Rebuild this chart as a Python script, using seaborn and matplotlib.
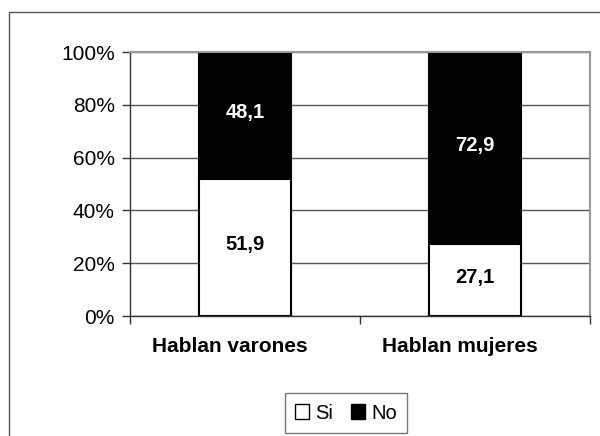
import pandas as pd
import matplotlib.pyplot as plt
import matplotlib.transforms as mtransforms
import seaborn as sns
from matplotlib.patches import Patch, Rectangle

# datos del gráfico
categorias = ["Hablan varones", "Hablan mujeres"]
si = [51.9, 27.1]
no = [48.1, 72.9]
etiquetas_y = ["0%", "20%", "40%", "60%", "80%", "100%"]

sns.set_theme(style="white")
plt.rcParams['font.family'] = ['Liberation Sans', 'DejaVu Sans']
plt.rcParams['text.color'] = 'black'
plt.rcParams['xtick.color'] = 'black'
plt.rcParams['ytick.color'] = 'black'

df = pd.DataFrame({"categoria": categorias, "Si": si, "No": no})
df["Total"] = df["Si"] + df["No"]

fig = plt.figure(figsize=(6, 4.36), dpi=100)
ax = fig.add_axes([130 / 600, 1 - 316 / 436, 460 / 600, 264 / 436])

# barra completa en negro (No) y encima la parte blanca (Si)
sns.barplot(data=df, x="categoria", y="Total", color="black", width=0.4,
            edgecolor="black", linewidth=1.5, saturation=1, ax=ax)
sns.barplot(data=df, x="categoria", y="Si", color="white", width=0.4,
            edgecolor="black", linewidth=1.5, saturation=1, ax=ax)

for i, (s, n) in enumerate(zip(si, no)):
    ax.text(i, s / 2 + 1, f"{s:.1f}".replace(".", ","), ha="center", va="center",
            fontsize=14.5, fontweight="bold", color="black")
    ax.text(i, s + n / 2 + 1, f"{n:.1f}".replace(".", ","), ha="center", va="center",
            fontsize=14.5, fontweight="bold", color="white")

ax.set_ylim(0, 100)
ax.set_xlim(-0.5, 1.5)
ax.set_yticks(range(0, 101, 20))
ax.set_yticklabels(etiquetas_y, fontsize=15)
ax.set_xticks([0, 1])
ax.set_xticklabels(categorias, fontsize=15, fontweight="bold")
ax.set_xticks([-0.5, 0.5, 1.5], minor=True)
ax.set_xlabel("")
ax.set_ylabel("")
ax.yaxis.grid(True, color="#555555", linewidth=1)
ax.set_axisbelow(True)
ax.tick_params(axis="y", left=True, length=6, width=1, color="#333333", pad=5)
ax.tick_params(axis="x", which="major", bottom=False, pad=9)
ax.tick_params(axis="x", which="minor", bottom=True, length=6, width=1, color="#333333")

# las etiquetas de categoría van algo a la izquierda, como en el original
desplazamiento = mtransforms.ScaledTranslation(-15 / 100, 0, fig.dpi_scale_trans)
for etiqueta in ax.get_xticklabels():
    etiqueta.set_transform(etiqueta.get_transform() + desplazamiento)

for lado in ["top", "right"]:
    ax.spines[lado].set_color("#999999")
    ax.spines[lado].set_linewidth(1.5)
for lado in ["left", "bottom"]:
    ax.spines[lado].set_color("#333333")
    ax.spines[lado].set_linewidth(1)

# marco exterior
fig.patches.append(Rectangle((9 / 600, -0.1), 1.1, 1 - 12 / 436 + 0.1,
                             transform=fig.transFigure, fill=False,
                             edgecolor="#555555", linewidth=1))

handles = [Patch(facecolor="white", edgecolor="black", label="Si"),
           Patch(facecolor="black", edgecolor="black", label="No")]
fig.legend(handles=handles, loc="center", bbox_to_anchor=(346 / 600, 1 - 413 / 436),
           ncol=2, frameon=True, fancybox=False, edgecolor="#555555",
           fontsize=14.5, handlelength=0.7, handleheight=0.7, handletextpad=0.3,
           columnspacing=0.9, borderpad=0.5)

fig.savefig("out.png", dpi=100)
